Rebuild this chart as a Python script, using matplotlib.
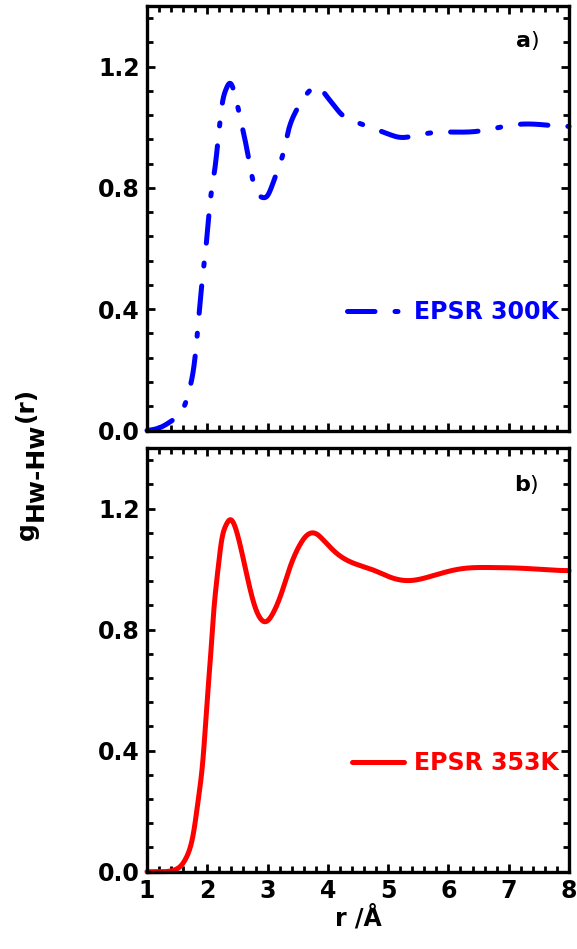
import matplotlib
matplotlib.use("Agg")
import matplotlib.pyplot as plt
from matplotlib.ticker import MultipleLocator
import numpy as np

# --- data ---
r_300 = [1.00, 1.22, 1.44, 1.63, 1.71, 1.79, 1.88, 1.93, 1.99, 2.04, 2.13, 2.18, 2.25, 2.31,
         2.38, 2.48, 2.57, 2.65, 2.73, 2.79, 2.86, 2.93, 3.00, 3.06, 3.17, 3.26, 3.34, 3.45,
         3.59, 3.72, 3.84, 3.97, 4.08, 4.20, 4.47, 4.77, 5.00, 5.19, 5.46, 5.85, 6.18, 6.49,
         6.85, 7.18, 7.45, 7.70, 7.95, 8.00]
g_300 = [0.000, 0.010, 0.036, 0.086, 0.140, 0.230, 0.420, 0.520, 0.630, 0.740, 0.870, 0.960,
         1.080, 1.125, 1.145, 1.090, 1.010, 0.935, 0.850, 0.800, 0.775, 0.768, 0.775, 0.800,
         0.860, 0.915, 0.985, 1.045, 1.094, 1.125, 1.134, 1.105, 1.078, 1.048, 1.017, 0.995,
         0.978, 0.967, 0.973, 0.984, 0.984, 0.987, 1.000, 1.010, 1.010, 1.006, 1.003, 1.003]

r_353 = [1.00, 1.30, 1.44, 1.55, 1.66, 1.77, 1.85, 1.94, 1.99, 2.05, 2.10, 2.17, 2.24, 2.31,
         2.38, 2.44, 2.51, 2.65, 2.79, 2.87, 2.95, 3.02, 3.09, 3.23, 3.37, 3.53, 3.62, 3.72,
         3.82, 3.92, 4.14, 4.36, 4.75, 5.08, 5.36, 5.69, 6.18, 6.73, 7.18, 7.60, 7.95, 8.00]
g_353 = [0.000, 0.000, 0.005, 0.017, 0.050, 0.127, 0.237, 0.400, 0.545, 0.700, 0.843, 0.986,
         1.097, 1.145, 1.163, 1.150, 1.107, 0.986, 0.876, 0.840, 0.826, 0.833, 0.854, 0.920,
         1.005, 1.078, 1.105, 1.119, 1.115, 1.097, 1.053, 1.025, 0.997, 0.970, 0.962, 0.975,
         1.000, 1.005, 1.003, 0.998, 0.995, 0.995]

x_ticks = [1, 2, 3, 4, 5, 6, 7, 8]
y_ticks = [0.0, 0.4, 0.8, 1.2]
y_ticklabels = ['0.0', '0.4', '0.8', '1.2']

plt.rcParams['font.family'] = ['DejaVu Sans']
plt.rcParams['mathtext.fontset'] = 'dejavusans'


def natural_spline(xk, yk, n=1500):
    xk = np.asarray(xk, float)
    yk = np.asarray(yk, float)
    m = len(xk)
    h = np.diff(xk)
    A = np.zeros((m, m))
    b = np.zeros(m)
    A[0, 0] = 1
    A[-1, -1] = 1
    for i in range(1, m - 1):
        A[i, i - 1] = h[i - 1]
        A[i, i] = 2 * (h[i - 1] + h[i])
        A[i, i + 1] = h[i]
        b[i] = 3 * ((yk[i + 1] - yk[i]) / h[i] - (yk[i] - yk[i - 1]) / h[i - 1])
    c = np.linalg.solve(A, b)
    bb = (yk[1:] - yk[:-1]) / h - h * (2 * c[:-1] + c[1:]) / 3
    d = (c[1:] - c[:-1]) / (3 * h)
    xs = np.linspace(xk[0], xk[-1], n)
    idx = np.clip(np.searchsorted(xk, xs) - 1, 0, m - 2)
    dx = xs - xk[idx]
    ys = yk[idx] + bb[idx] * dx + c[idx] * dx ** 2 + d[idx] * dx ** 3
    return xs, ys


fig = plt.figure(figsize=(5.77, 9.49), dpi=100)
W, H = 577, 949
L, R = 147, 569
ax1 = fig.add_axes([L / W, (H - 430.5) / H, (R - L) / W, 424.5 / H])
ax2 = fig.add_axes([L / W, (H - 871.7) / H, (R - L) / W, 423.7 / H])

x1, y1 = natural_spline(r_300, g_300)
x2, y2 = natural_spline(r_353, g_353)
y1 = np.clip(y1, 0, None)
y2 = np.clip(y2, 0, None)

ax1.plot(x1, y1, color='#0000ff', lw=3.6, linestyle=(0, (5.5, 4.0, 0.6, 4.0)),
         dash_capstyle='round', label='EPSR 300K', clip_on=False)
ax2.plot(x2, y2, color='#ff0000', lw=3.6, solid_capstyle='round',
         label='EPSR 353K', clip_on=False)

for ax in (ax1, ax2):
    ax.set_xlim(1, 8)
    ax.set_ylim(0, 1.4)
    ax.set_xticks(x_ticks)
    ax.set_yticks(y_ticks)
    ax.xaxis.set_minor_locator(MultipleLocator(0.2))
    ax.yaxis.set_minor_locator(MultipleLocator(0.08))
    ax.tick_params(which='both', direction='in', top=True, right=True, width=2.0)
    ax.tick_params(which='major', length=6)
    ax.tick_params(which='minor', length=4)
    ax.tick_params(axis='both', labelsize=17, pad=5)
    for s in ax.spines.values():
        s.set_linewidth(2.4)
    ax.set_yticklabels(y_ticklabels, fontweight='bold', fontsize=17)

ax1.tick_params(labelbottom=False)
ax2.set_xticklabels([str(v) for v in x_ticks], fontweight='bold', fontsize=17)

leg1 = ax1.legend(loc='center right', bbox_to_anchor=(0.975, 0.279), frameon=False,
                  handlelength=2.4, handletextpad=0.4, borderpad=0, borderaxespad=0,
                  labelcolor='linecolor', prop={'weight': 'bold', 'size': 17})
leg2 = ax2.legend(loc='center right', bbox_to_anchor=(0.975, 0.257), frameon=False,
                  handlelength=2.2, handletextpad=0.4, borderpad=0, borderaxespad=0,
                  labelcolor='linecolor', prop={'weight': 'bold', 'size': 17})

ax1.text(0.928, 0.918, r'$\mathbf{a}$)', transform=ax1.transAxes, ha='right', va='center',
         fontsize=16)
ax2.text(0.928, 0.913, r'$\mathbf{b}$)', transform=ax2.transAxes, ha='right', va='center',
         fontsize=16)

ax2.set_xlabel('r /Å', fontsize=17, fontweight='bold', labelpad=2)

# y label built from three pieces: g, lowered "Hw-Hw", "(r)"
pieces = [('g', 34), ('Hw‐Hw', 43), ('(r)', 33)]
y_cursor = 540.0  # bottom of label, pixels from top
fig.canvas.draw()
renderer = fig.canvas.get_renderer()
for txt, base_x in pieces:
    t = fig.text(base_x / W, 1 - y_cursor / H, txt, rotation=90, rotation_mode='anchor',
                 ha='left', va='baseline', fontsize=18, fontweight='bold')
    bb = t.get_window_extent(renderer=renderer)
    y_cursor -= bb.height + 1

fig.savefig('out.png', dpi=100)
